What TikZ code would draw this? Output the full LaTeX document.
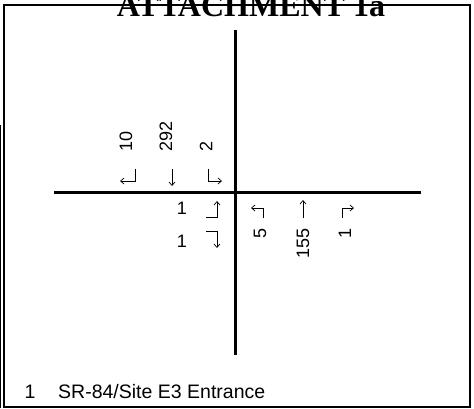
\documentclass[tikz,border=0pt]{standalone}
\usepackage{fontspec}
\setmainfont{Liberation Sans}
\newfontfamily\titlefont{Liberation Serif}
\usetikzlibrary{arrows.meta}
\begin{document}
\begin{tikzpicture}[x=1pt,y=-1pt,
  road/.style={line width=2.6pt},
  frame/.style={line width=2pt},
  mv/.style={line width=0.7pt,-{Straight Barb[length=3.5pt,width=6pt]}},
  vol/.style={inner sep=0pt,font=\fontsize{18}{20}\selectfont},
  lab/.style={inner sep=0pt,font=\fontsize{19.5}{22}\selectfont}]
\useasboundingbox (0,0) rectangle (474,408);
\fill[white] (0,0) rectangle (474,408);
% frame
\draw[frame] (4,5) -- (470,5) -- (470,407) -- (4,407) -- cycle;
\draw[line width=1pt] (0.6,125) -- (0.6,408);
% title
\node[inner sep=0pt,anchor=base,font=\titlefont\bfseries\fontsize{32}{34}\selectfont] (title) at (251,16) {ATTACHMENT 1a};
% roads
\coordinate (nT) at (235.5,30);
\coordinate (nB) at (235.5,355);
\coordinate (wL) at (54,192.5);
\coordinate (eR) at (421,192.5);
\draw[road] (nT) -- (nB);
\draw[road] (wL) -- (eR);
% north approach volumes
\node[vol,rotate=90,anchor=west] (v10) at (126,152) {10};
\node[vol,rotate=90,anchor=west] (v292) at (166,152) {292};
\node[vol,rotate=90,anchor=west] (v2) at (206,152) {2};
% north approach movements
\draw[mv] (135,169) -- (135,181) -- (120,181);
\draw[mv] (172,169) -- (172,186);
\draw[mv] (208,169) -- (208,181) -- (222,181);
% west approach
\node[vol] (w1) at (182,208) {1};
\node[vol] (w2) at (182,241) {1};
\draw[mv] (206,217) -- (217,217) -- (217,201);
\draw[mv] (206,231) -- (217,231) -- (217,248);
% south approach movements
\draw[mv] (263,218) -- (263,208) -- (251,208);
\draw[mv] (303,218) -- (303,200);
\draw[mv] (342,218) -- (342,208) -- (354,208);
% south approach volumes
\node[vol,rotate=90,anchor=east] (s5) at (260,228) {5};
\node[vol,rotate=90,anchor=east] (s155) at (303,228) {155};
\node[vol,rotate=90,anchor=east] (s1) at (345,228) {1};
% legend
\node[lab,anchor=base] (l1) at (30,398) {1};
\node[lab,anchor=base west] (lt) at (58,398) {SR-84/Site E3 Entrance};
\end{tikzpicture}
\end{document}
